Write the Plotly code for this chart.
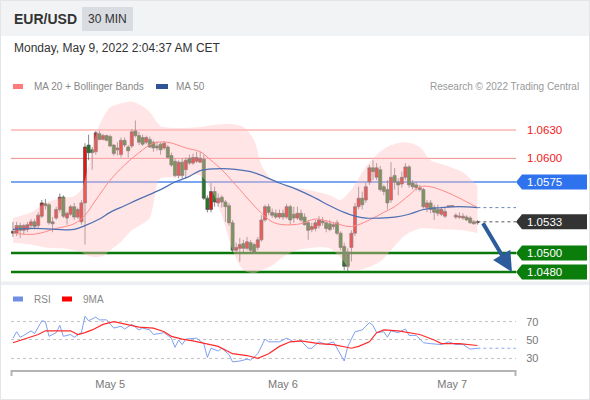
import plotly.graph_objects as go

# ---------------- data ----------------
opens = [1.0523,1.0521,1.0529,1.0524,1.0525,1.0529,1.0533,1.0529,1.0539,1.0552,
         1.0551,1.0533,1.0537,1.0546,1.0559,1.0537,1.0541,1.0549,1.0538,1.0533,
         1.0553,1.0614,1.0609,1.0607,1.0626,1.0620,1.0624,1.0623,1.0614,1.0609,
         1.0604,1.0619,1.0612,1.0613,1.0629,1.0624,1.0622,1.0617,1.0620,1.0617,
         1.0613,1.0615,1.0611,1.0612,1.0603,1.0597,1.0582,1.0596,1.0588,1.0600,
         1.0595,1.0597,1.0596,1.0599,1.0558,1.0546,1.0565,1.0553,1.0559,1.0554,
         1.0550,1.0532,1.0503,1.0505,1.0510,1.0505,1.0511,1.0509,1.0506,1.0514,
         1.0535,1.0549,1.0543,1.0542,1.0538,1.0542,1.0538,1.0549,1.0541,1.0537,
         1.0542,1.0538,1.0532,1.0525,1.0526,1.0529,1.0534,1.0532,1.0531,1.0528,
         1.0532,1.0521,1.0507,1.0501,1.0506,1.0521,1.0549,1.0558,1.0556,1.0575,
         1.0590,1.0580,1.0588,1.0570,1.0567,1.0556,1.0582,1.0575,1.0573,1.0580,
         1.0591,1.0574,1.0572,1.0567,1.0567,1.0548,1.0553,1.0548,1.0546,1.0541,
         1.0539,1.0550,1.0549,1.0538,1.0539,1.0537,1.0538,1.0537,1.0533,1.0532]
highs = [1.0533,1.0533,1.0532,1.0531,1.0533,1.0536,1.0536,1.0543,1.0556,1.0557,
         1.0553,1.0538,1.0549,1.0563,1.0561,1.0544,1.0551,1.0553,1.0548,1.0556,
         1.0616,1.0625,1.0612,1.0629,1.0629,1.0626,1.0625,1.0625,1.0615,1.0617,
         1.0622,1.0622,1.0614,1.0631,1.0640,1.0628,1.0625,1.0624,1.0623,1.0619,
         1.0618,1.0617,1.0618,1.0614,1.0606,1.0600,1.0598,1.0600,1.0601,1.0604,
         1.0605,1.0607,1.0607,1.0604,1.0561,1.0574,1.0570,1.0563,1.0561,1.0556,
         1.0553,1.0535,1.0511,1.0516,1.0514,1.0517,1.0514,1.0511,1.0517,1.0540,
         1.0551,1.0552,1.0547,1.0546,1.0546,1.0546,1.0552,1.0551,1.0549,1.0549,
         1.0546,1.0542,1.0535,1.0532,1.0535,1.0539,1.0538,1.0535,1.0535,1.0533,
         1.0535,1.0523,1.0511,1.0505,1.0524,1.0553,1.0570,1.0565,1.0574,1.0593,
         1.0598,1.0595,1.0592,1.0572,1.0577,1.0596,1.0590,1.0579,1.0586,1.0595,
         1.0593,1.0577,1.0575,1.0572,1.0569,1.0556,1.0556,1.0551,1.0551,1.0549,
         1.0548,1.0550,1.0550,1.0542,1.0543,1.0542,1.0540,1.0539,1.0535,1.0535]
lows = [1.0517,1.0518,1.0516,1.0519,1.0522,1.0526,1.0525,1.0526,1.0537,1.0546,
        1.0530,1.0522,1.0535,1.0543,1.0537,1.0530,1.0539,1.0535,1.0536,1.0530,
        1.0509,1.0598,1.0588,1.0604,1.0619,1.0619,1.0618,1.0612,1.0603,1.0603,
        1.0601,1.0612,1.0601,1.0611,1.0622,1.0614,1.0613,1.0615,1.0611,1.0607,
        1.0608,1.0604,1.0609,1.0600,1.0591,1.0580,1.0579,1.0579,1.0579,1.0593,
        1.0593,1.0595,1.0595,1.0556,1.0543,1.0543,1.0549,1.0549,1.0548,1.0533,
        1.0529,1.0501,1.0501,1.0491,1.0501,1.0503,1.0501,1.0499,1.0503,1.0512,
        1.0533,1.0540,1.0537,1.0536,1.0536,1.0535,1.0536,1.0530,1.0532,1.0535,
        1.0533,1.0529,1.0514,1.0522,1.0523,1.0526,1.0529,1.0522,1.0523,1.0525,
        1.0519,1.0503,1.0482,1.0479,1.0491,1.0518,1.0546,1.0546,1.0553,1.0572,
        1.0577,1.0577,1.0565,1.0561,1.0546,1.0553,1.0567,1.0561,1.0569,1.0577,
        1.0569,1.0567,1.0566,1.0565,1.0547,1.0543,1.0542,1.0535,1.0539,1.0539,
        1.0537,1.0549,1.0549,1.0536,1.0536,1.0535,1.0534,1.0531,1.0530,1.0530]
closes = [1.0521,1.0529,1.0524,1.0529,1.0530,1.0533,1.0528,1.0540,1.0553,1.0550,
          1.0532,1.0531,1.0546,1.0559,1.0539,1.0542,1.0549,1.0538,1.0546,1.0553,
          1.0612,1.0606,1.0606,1.0627,1.0620,1.0624,1.0619,1.0613,1.0605,1.0611,
          1.0619,1.0614,1.0608,1.0628,1.0624,1.0617,1.0615,1.0622,1.0612,1.0611,
          1.0611,1.0609,1.0616,1.0601,1.0593,1.0582,1.0596,1.0582,1.0598,1.0595,
          1.0601,1.0601,1.0600,1.0558,1.0546,1.0565,1.0554,1.0558,1.0554,1.0549,
          1.0532,1.0503,1.0506,1.0509,1.0505,1.0512,1.0503,1.0501,1.0514,1.0535,
          1.0549,1.0543,1.0540,1.0538,1.0542,1.0538,1.0549,1.0535,1.0537,1.0542,
          1.0535,1.0530,1.0524,1.0528,1.0532,1.0535,1.0532,1.0526,1.0525,1.0530,
          1.0521,1.0506,1.0486,1.0486,1.0521,1.0549,1.0558,1.0551,1.0570,1.0590,
          1.0586,1.0590,1.0567,1.0565,1.0553,1.0580,1.0575,1.0572,1.0580,1.0591,
          1.0572,1.0570,1.0569,1.0569,1.0549,1.0553,1.0546,1.0543,1.0542,1.0546,
          1.0544,1.0549,1.0550,1.0540,1.0538,1.0539,1.0535,1.0532,1.0531,1.0533]
bars = list(range(len(closes)))

band_idx = [0,5,9,13,17,19,21,23,25,27,30,33,36,38,40,41,46,52,55,58,
            61,64,67,69,72,75,79,84,88,91,94,98,102,105,109,113,116,120,125,129]
band_upper = [1.0537,1.0543,1.0553,1.0558,1.0560,1.0567,1.0593,1.0625,1.0643,1.0654,
              1.0658,1.0660,1.0655,1.0649,1.0638,1.0634,1.0632,1.0633,1.0635,1.0636,
              1.0636,1.0633,1.0619,1.0593,1.0577,1.0572,1.0569,1.0565,1.0561,1.0556,
              1.0567,1.0591,1.0607,1.0614,1.0617,1.0612,1.0598,1.0593,1.0585,1.0571]
band_lower = [1.0511,1.0509,1.0506,1.0505,1.0503,1.0501,1.0497,1.0496,1.0497,1.0503,
              1.0512,1.0524,1.0531,1.0537,1.0572,1.0579,1.0580,1.0582,1.0567,1.0540,
              1.0503,1.0482,1.0479,1.0482,1.0487,1.0496,1.0503,1.0506,1.0505,1.0495,
              1.0482,1.0484,1.0491,1.0503,1.0519,1.0526,1.0526,1.0525,1.0524,1.0521]

ma20_idx = [0,6,12,17,20,23,27,31,35,39,43,48,52,55,58,63,68,72,75,80,
            84,89,94,99,103,106,110,113,116,120,124,129]
ma20 = [1.0521,1.0520,1.0526,1.0531,1.0540,1.0556,1.0577,1.0593,1.0606,1.0616,
        1.0617,1.0611,1.0607,1.0598,1.0588,1.0567,1.0546,1.0533,1.0530,1.0531,
        1.0536,1.0532,1.0528,1.0535,1.0543,1.0549,1.0561,1.0570,1.0570,1.0565,
        1.0558,1.0548]

ma50_idx = [0,6,12,17,20,24,27,31,35,41,45,49,52,56,60,66,69,74,79,84,
            88,92,95,98,102,106,110,114,119,124,129]
ma50 = [1.0525,1.0526,1.0525,1.0525,1.0529,1.0536,1.0543,1.0550,1.0557,1.0567,
        1.0575,1.0581,1.0587,1.0589,1.0589,1.0586,1.0582,1.0574,1.0567,1.0558,
        1.0550,1.0543,1.0539,1.0537,1.0537,1.0538,1.0541,1.0546,1.0548,1.0549,
        1.0548]

rsi_idx = [0,1,2,3,5,6,8,9,10,12,13,14,16,17,19,20,21,23,24,26,
           28,30,31,33,35,36,38,39,42,44,45,46,47,48,51,53,54,55,57,58,
           60,61,63,65,66,68,70,71,74,76,78,80,82,83,85,87,89,90,92,93,
           95,97,99,100,101,103,104,105,107,109,110,112,114,116,119,121,123,125,127,129]
rsi = [52,59,53,55,60,57,71,70,54,58,66,54,56,53,58,76,71,75,72,72,
       63,65,62,67,61,63,61,56,58,52,42,50,45,51,52,46,31,41,38,41,
       34,26,27,29,28,35,51,48,48,52,48,49,41,41,48,45,48,41,27,43,
       59,61,69,66,58,59,53,60,58,62,55,55,47,46,45,48,45,45,40,41]

ma9_idx = [0,4,7,9,13,16,18,20,22,25,28,32,35,39,42,44,47,50,54,57,
           61,65,68,71,74,77,80,85,89,94,96,99,101,103,107,110,113,117,119,124,129]
rsi_ma9 = [47,52,56,60,60,60,56,58,61,67,70,67,64,63,59,54,51,49,46,43,
           35,33,30,35,43,48,49,46,45,41,43,48,58,61,60,58,56,50,46,46,44]

date_ticks = [27, 75, 122]
date_labels = ["May 5", "May 6", "May 7"]
rsi_ticks = [30, 50, 70]

resist_levels = [1.0630, 1.0600]
pivot_level = 1.0575
support_levels = [1.0500, 1.0480]
last_price = closes[-1]

# ---------------- layout helpers ----------------
W, H = 590, 400
FONT = "Liberation Sans, Arial, sans-serif"
def px(x): return x / W
def py(y): return 1 - y / H

XR = [-0.556, 139.72]
YR = [1.04716, 1.06616]
RSIR = [17.2, 93.7]

fig = go.Figure()

# Bollinger band
fig.add_trace(go.Scatter(x=band_idx, y=band_upper, mode="lines",
                         line=dict(width=0, shape="spline", smoothing=0.8),
                         hoverinfo="skip", showlegend=False, xaxis="x", yaxis="y"))
fig.add_trace(go.Scatter(x=band_idx, y=band_lower, mode="lines", fill="tonexty",
                         fillcolor="rgba(255,190,190,0.40)",
                         line=dict(width=0, shape="spline", smoothing=0.8),
                         hoverinfo="skip", showlegend=False, xaxis="x", yaxis="y"))
# MAs
fig.add_trace(go.Scatter(x=ma20_idx, y=ma20, mode="lines",
                         line=dict(color="#ff8a8a", width=1, shape="spline"),
                         showlegend=False, xaxis="x", yaxis="y"))
fig.add_trace(go.Scatter(x=ma50_idx, y=ma50, mode="lines",
                         line=dict(color="#4d6fb3", width=1.2, shape="spline"),
                         showlegend=False, xaxis="x", yaxis="y"))
# candles (red = rising, green = falling)
fig.add_trace(go.Candlestick(x=bars, open=opens, high=highs, low=lows, close=closes,
                             increasing=dict(fillcolor="#e31414", line=dict(color="#555555", width=0.7)),
                             decreasing=dict(fillcolor="#1f7d1f", line=dict(color="#555555", width=0.7)),
                             whiskerwidth=0, showlegend=False, xaxis="x", yaxis="y"))

# RSI panel
fig.add_trace(go.Scatter(x=rsi_idx, y=rsi, mode="lines",
                         line=dict(color="#7f9ff0", width=1),
                         showlegend=False, xaxis="x2", yaxis="y2"))
fig.add_trace(go.Scatter(x=ma9_idx, y=rsi_ma9, mode="lines",
                         line=dict(color="#ff2b2b", width=1.2),
                         showlegend=False, xaxis="x2", yaxis="y2"))

shapes = []
annots = []

# header band and boxes
shapes.append(dict(type="rect", xref="paper", yref="paper", x0=0, x1=1, y0=py(36), y1=1,
                   fillcolor="#f2f3f5", line=dict(width=0), layer="below"))
shapes.append(dict(type="rect", xref="paper", yref="paper", x0=px(82), x1=px(133), y0=py(31), y1=py(7),
                   fillcolor="#d9dce1", line=dict(width=0), layer="below"))
shapes.append(dict(type="rect", xref="paper", yref="paper", x0=0, x1=1, y0=py(285), y1=py(281.5),
                   fillcolor="#eceef1", line=dict(width=0), layer="below"))
shapes.append(dict(type="rect", xref="paper", yref="paper", x0=0, x1=1, y0=0, y1=1,
                   line=dict(color="#e3e5e8", width=2)))

annots.append(dict(text="<b>EUR/USD</b>", x=px(12), y=py(19), xref="paper", yref="paper",
                   xanchor="left", yanchor="middle", showarrow=False,
                   font=dict(family=FONT, size=14, color="#333")))
annots.append(dict(text="30 MIN", x=px(107.5), y=py(19), xref="paper", yref="paper",
                   xanchor="center", yanchor="middle", showarrow=False,
                   font=dict(family=FONT, size=12, color="#333")))
annots.append(dict(text="Monday, May 9, 2022 2:04:37 AM CET", x=px(12), y=py(48), xref="paper", yref="paper",
                   xanchor="left", yanchor="middle", showarrow=False,
                   font=dict(family=FONT, size=12, color="#333")))

def swatch(x0, x1, yc, color):
    shapes.append(dict(type="rect", xref="paper", yref="paper", x0=px(x0), x1=px(x1),
                       y0=py(yc + 2.5), y1=py(yc - 2.5), fillcolor=color, line=dict(width=0)))
def label(text, x, y, color="#888", size=10, anchor="left"):
    annots.append(dict(text=text, x=px(x), y=py(y), xref="paper", yref="paper",
                       xanchor=anchor, yanchor="middle", showarrow=False,
                       font=dict(family=FONT, size=size, color=color)))

swatch(13, 23, 86.5, "#ff7b7b")
label("MA 20 + Bollinger Bands", 32, 86.5)
swatch(156, 168, 86.5, "#2f5597")
label("MA 50", 174, 86.5)
label("Research © 2022 Trading Central", 581, 86.5, color="#999", anchor="right")
swatch(13, 23, 299, "#6f8fe4")
label("RSI", 32, 299)
swatch(62, 72, 299, "#ff0000")
label("9MA", 81, 299)

def hline(level, color, width):
    shapes.append(dict(type="line", xref="x", yref="y", x0=XR[0], x1=XR[1], y0=level, y1=level,
                       line=dict(color=color, width=width), layer="below"))

hline(resist_levels[0], "#ffb3b3", 1.5)
hline(resist_levels[1], "#f38a8a", 1)
hline(pivot_level, "#7aa6f5", 2)
for s in support_levels:
    hline(s, "#0a780a", 2.5)

# dotted extensions
shapes.append(dict(type="line", xref="x", yref="y", x0=bars[-1], x1=XR[1], y0=ma50[-1], y1=ma50[-1],
                   line=dict(color="#6a85b8", width=1, dash="dot")))
shapes.append(dict(type="line", xref="x", yref="y", x0=bars[-1], x1=XR[1], y0=last_price, y1=last_price,
                   line=dict(color="#555", width=1, dash="dot")))
shapes.append(dict(type="line", xref="x2", yref="y2", x0=rsi_idx[-1], x1=XR[1], y0=rsi[-1], y1=rsi[-1],
                   line=dict(color="#8aa8f0", width=1, dash="dot")))

for lv in resist_levels:
    annots.append(dict(text=f"{lv:.4f}", x=px(525), y=lv, xref="paper", yref="y",
                       xanchor="left", yanchor="middle", showarrow=False,
                       font=dict(family=FONT, size=11.5, color="#f02020")))

def tag(level, color):
    shapes.append(dict(type="path", xref="paper", yref="y", xsizemode="pixel", ysizemode="pixel",
                       xanchor=px(516), yanchor=level,
                       path="M0,0 L6,7.5 L71,7.5 L71,-7.5 L6,-7.5 Z",
                       fillcolor=color, line=dict(width=0)))
    annots.append(dict(text=f"{level:.4f}", x=px(525), y=level, xref="paper", yref="y",
                       xanchor="left", yanchor="middle", showarrow=False,
                       font=dict(family=FONT, size=11.5, color="white")))

tag(pivot_level, "#2f72ee")
tag(last_price, "#333333")
for s in support_levels:
    tag(s, "#0b7d0b")

# forecast arrow from last price towards the lower support
annots.append(dict(x=bars[-1] + 9.6, y=support_levels[-1], ax=bars[-1] + 1.3, ay=last_price,
                   xref="x", yref="y", axref="x", ayref="y", text="", showarrow=True,
                   arrowhead=2, arrowsize=1, arrowwidth=4, arrowcolor="#2d5c9c"))

for xe in (11.5, 515.5):
    shapes.append(dict(type="line", xref="paper", yref="paper", x0=px(xe), x1=px(xe),
                       y0=py(370), y1=py(376), line=dict(color="#b4b4b4", width=2)))

fig.update_layout(
    width=W, height=H, autosize=False,
    margin=dict(l=0, r=0, t=0, b=0),
    paper_bgcolor="white", plot_bgcolor="rgba(0,0,0,0)",
    showlegend=False,
    boxgap=0.05, boxgroupgap=0.1,
    font=dict(family=FONT),
    xaxis=dict(domain=[px(11), px(516)], range=XR, visible=False, anchor="y",
               rangeslider=dict(visible=False), fixedrange=True),
    yaxis=dict(domain=[py(280), py(100)], range=YR, visible=False, anchor="x", fixedrange=True),
    xaxis2=dict(domain=[px(11), px(516)], range=XR, anchor="y2",
                tickvals=date_ticks, ticktext=date_labels,
                showline=True, linecolor="#b4b4b4", linewidth=2,
                showgrid=False, zeroline=False, ticks="outside", ticklen=3,
                tickcolor="rgba(0,0,0,0)", tickfont=dict(family=FONT, size=11, color="#777")),
    yaxis2=dict(domain=[py(370), py(300)], range=RSIR, anchor="x2", side="right",
                tickvals=rsi_ticks, showgrid=True, griddash="dot", gridcolor="#c4c4c4",
                gridwidth=1, zeroline=False, showline=False, ticks="outside", ticklen=7,
                tickcolor="rgba(0,0,0,0)", tickfont=dict(family=FONT, size=11, color="#777")),
    shapes=shapes,
    annotations=annots,
)

fig.write_html("out.html", config={"displayModeBar": False, "staticPlot": True},
               post_script="document.body.style.margin='0';")
